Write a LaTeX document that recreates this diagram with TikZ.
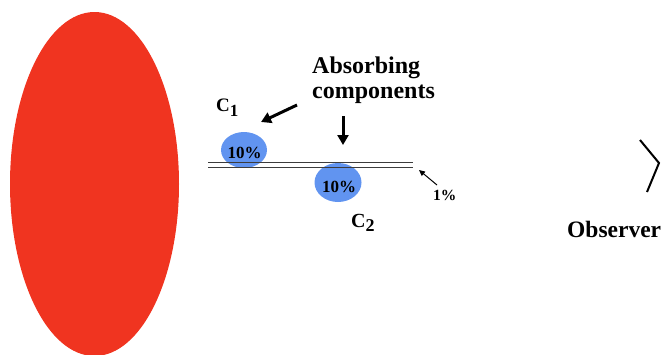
\documentclass[tikz,border=0pt]{standalone}
\usepackage{fontspec}
\setmainfont{Liberation Serif}
\usetikzlibrary{arrows.meta,shapes.geometric}
\definecolor{srcred}{RGB}{240,52,32}
\definecolor{absblue}{RGB}{97,148,240}
\definecolor{linegray}{RGB}{60,60,60}
\tikzset{
  lbl/.style={anchor=base west, inner sep=0pt, font=\bfseries},
  absorber/.style={ellipse, fill=absblue, draw=none, inner sep=0pt},
  bigarrow/.style={line width=3pt, -{Triangle[length=10pt,width=11pt]}},
  thinarrow/.style={line width=1pt, -{Triangle[length=6pt,width=5.5pt]}},
  layer/.style={draw=linegray, line width=1pt},
}
\begin{document}
\begin{tikzpicture}[x=1pt,y=-1pt]
\useasboundingbox (0,0) rectangle (667,354);
% source
\node[ellipse, fill=srcred, minimum width=169pt, minimum height=344pt, inner sep=0pt] (src) at (94.5,184) {};
% absorbing components
\node[absorber, minimum width=46pt, minimum height=36pt] (c1) at (244,150) {};
\node[absorber, minimum width=47pt, minimum height=39pt] (c2) at (338,182.5) {};
% layer lines
\coordinate (la) at (208,162);
\coordinate (lb) at (413,162);
\coordinate (lc) at (208,167.5);
\coordinate (ld) at (413,167.5);
\draw[layer] (la) -- (lb);
\draw[layer] (lc) -- (ld);
% percentages
\node[lbl, font=\bfseries\fontsize{17}{17}\selectfont, anchor=center] (p1) at (244.5,153) {10\%};
\node[lbl, font=\bfseries\fontsize{17}{17}\selectfont, anchor=center] (p2) at (339,187) {10\%};
\node[lbl, font=\bfseries\fontsize{15.5}{15.5}\selectfont] (p3) at (433,200) {1\%};
% labels
\node[lbl, font=\bfseries\fontsize{19}{19}\selectfont] (l1) at (216,111) {C\textsubscript{\fontsize{17}{17}\selectfont 1}};
\node[lbl, font=\bfseries\fontsize{20}{20}\selectfont] (l2) at (351,227) {C\textsubscript{\fontsize{18}{18}\selectfont 2}};
\node[lbl, font=\bfseries\fontsize{24}{24}\selectfont] (abs1) at (312,73) {Absorbing};
\node[lbl, font=\bfseries\fontsize{24}{24}\selectfont] (abs2) at (312,98) {components};
\node[lbl, font=\bfseries\fontsize{23.5}{23.5}\selectfont] (obs) at (567,237) {Observer};
% arrows
\coordinate (a1s) at (297,105);
\coordinate (a1e) at (261,122);
\coordinate (a2s) at (343,116);
\coordinate (a2e) at (343,145);
\coordinate (a3s) at (437,185);
\coordinate (a3e) at (419,170);
\draw[bigarrow] (a1s) -- (a1e);
\draw[bigarrow] (a2s) -- (a2e);
\draw[thinarrow] (a3s) -- (a3e);
% observer eye
\coordinate (e1) at (640,140);
\coordinate (e2) at (659,163);
\coordinate (e3) at (647,192);
\draw[line width=2pt, line join=miter] (e1) -- (e2) -- (e3);
\end{tikzpicture}
\end{document}
